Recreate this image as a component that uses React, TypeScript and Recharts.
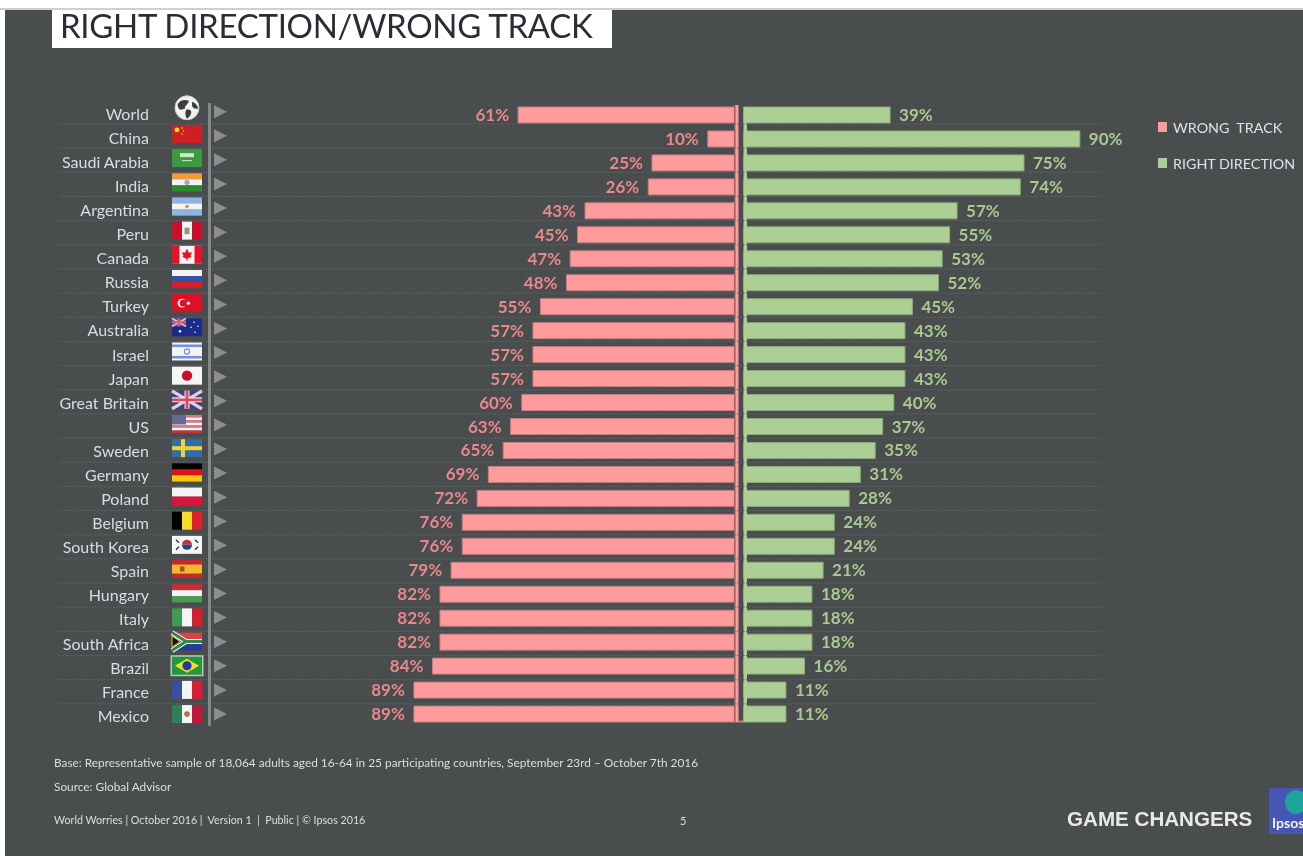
import { Bar, BarChart, LabelList, Legend, ReferenceLine, XAxis, YAxis } from 'recharts';

const countries = [
  'World', 'China', 'Saudi Arabia', 'India', 'Argentina', 'Peru', 'Canada', 'Russia', 'Turkey',
  'Australia', 'Israel', 'Japan', 'Great Britain', 'US', 'Sweden', 'Germany', 'Poland', 'Belgium',
  'South Korea', 'Spain', 'Hungary', 'Italy', 'South Africa', 'Brazil', 'France', 'Mexico',
];
const wrongTrack = [61, 10, 25, 26, 43, 45, 47, 48, 55, 57, 57, 57, 60, 63, 65, 69, 72, 76, 76, 79, 82, 82, 82, 84, 89, 89];
const rightDirection = [39, 90, 75, 74, 57, 55, 53, 52, 45, 43, 43, 43, 40, 37, 35, 31, 28, 24, 24, 21, 18, 18, 18, 16, 11, 11];

const title = 'RIGHT DIRECTION/WRONG TRACK';
const baseNote = 'Base: Representative sample of 18,064 adults aged 16-64 in 25 participating countries, September 23rd – October 7th 2016';
const sourceNote = 'Source: Global Advisor';
const footerNote = 'World Worries | October 2016 |  Version 1  |  Public | © Ipsos 2016';

const rows = countries.map((country, i) => ({
  country,
  wrong: wrongTrack[i],
  wrongBar: -wrongTrack[i],
  right: rightDirection[i],
}));

const BG = '#4a4d4e';
const PINK = '#ff9a9d';
const GREEN = '#abcf94';
const FONT = 'Lato, sans-serif';

function stripes(colors: string[]) {
  const h = 18 / colors.length;
  return colors.map((c, i) => <rect key={i} x={0} y={i * h} width={30} height={h + 0.2} fill={c} />);
}

function bands(colors: string[]) {
  const w = 30 / colors.length;
  return colors.map((c, i) => <rect key={i} x={i * w} y={0} width={w + 0.2} height={18} fill={c} />);
}

function flagArt(name: string) {
  switch (name) {
    case 'China':
      return (
        <>
          <rect width={30} height={18} fill="#cf1f25" />
          <circle cx={5} cy={5} r={2.4} fill="#f7d43a" />
          <circle cx={10} cy={3} r={0.8} fill="#f7d43a" />
          <circle cx={11.5} cy={6} r={0.8} fill="#f7d43a" />
          <circle cx={10} cy={9} r={0.8} fill="#f7d43a" />
        </>
      );
    case 'Saudi Arabia':
      return (
        <>
          <rect width={30} height={18} fill="#3c9a3e" />
          <rect x={8} y={4} width={14} height={4} fill="#cfe6c8" />
          <rect x={10} y={11} width={10} height={1} fill="#cfe6c8" />
        </>
      );
    case 'India':
      return (
        <>
          {stripes(['#f39a3c', '#f4f4f4', '#2c8a2c'])}
          <circle cx={15} cy={9} r={2.6} fill="#9aa5cf" />
        </>
      );
    case 'Argentina':
      return (
        <>
          {stripes(['#8db4e2', '#f4f4f4', '#8db4e2'])}
          <circle cx={15} cy={9} r={1.8} fill="#d99a3a" />
        </>
      );
    case 'Peru':
      return (
        <>
          {bands(['#c8102e', '#f4f4f4', '#c8102e'])}
          <rect x={12.5} y={6} width={5} height={6.5} fill="#8a9a7a" />
        </>
      );
    case 'Canada':
      return (
        <>
          <rect width={30} height={18} fill="#f4f4f4" />
          <rect width={7.5} height={18} fill="#e5132a" />
          <rect x={22.5} width={7.5} height={18} fill="#e5132a" />
          <polygon points="15,3 17,7 20,6.5 18.5,10.5 20,11 15.5,13 15.5,15 14.5,15 14.5,13 10,11 11.5,10.5 10,6.5 13,7" fill="#e5132a" />
        </>
      );
    case 'Russia':
      return stripes(['#f4f4f4', '#3552a8', '#d5202c']);
    case 'Turkey':
      return (
        <>
          <rect width={30} height={18} fill="#df0f26" />
          <circle cx={10} cy={9} r={4.4} fill="#f4f4f4" />
          <circle cx={11.2} cy={9} r={3.4} fill="#df0f26" />
          <circle cx={16.5} cy={9} r={1.6} fill="#f4f4f4" />
        </>
      );
    case 'Australia':
      return (
        <>
          <rect width={30} height={18} fill="#1c2a8a" />
          <rect width={14} height={8} fill="#5a5aa8" />
          <path d="M0 0L14 8M14 0L0 8" stroke="#f0c4cc" strokeWidth={1.6} />
          <path d="M7 0V8M0 4H14" stroke="#e45a6a" strokeWidth={2} />
          <circle cx={8} cy={13} r={1.3} fill="#f4f4f4" />
          <circle cx={22} cy={4} r={0.8} fill="#f4f4f4" />
          <circle cx={26} cy={8} r={0.8} fill="#f4f4f4" />
          <circle cx={19} cy={9} r={0.8} fill="#f4f4f4" />
          <circle cx={23} cy={14} r={0.8} fill="#f4f4f4" />
        </>
      );
    case 'Israel':
      return (
        <>
          <rect width={30} height={18} fill="#f4f4f4" />
          <rect y={2} width={30} height={2.6} fill="#6f94d8" />
          <rect y={13.4} width={30} height={2.6} fill="#6f94d8" />
          <circle cx={15} cy={9} r={2.6} fill="none" stroke="#6f94d8" strokeWidth={1.2} />
        </>
      );
    case 'Japan':
      return (
        <>
          <rect width={30} height={18} fill="#f6f6f6" />
          <circle cx={15} cy={9} r={5.2} fill="#c8102e" />
        </>
      );
    case 'Great Britain':
      return (
        <>
          <rect width={30} height={18} fill="#3a3f8e" />
          <path d="M0 0L30 18M30 0L0 18" stroke="#e8ccd8" strokeWidth={3.4} />
          <path d="M15 0V18M0 9H30" stroke="#efe4ea" strokeWidth={5} />
          <path d="M15 0V18M0 9H30" stroke="#d84a62" strokeWidth={2.8} />
        </>
      );
    case 'US':
      return (
        <>
          {stripes(['#d9767e', '#f4f4f4', '#d9767e', '#f4f4f4', '#d9767e', '#f4f4f4', '#c8303c'])}
          <rect width={14} height={9.5} fill="#676a94" />
        </>
      );
    case 'Sweden':
      return (
        <>
          <rect width={30} height={18} fill="#2f6ea8" />
          <rect x={9} width={4} height={18} fill="#f2d230" />
          <rect y={7} width={30} height={4} fill="#f2d230" />
        </>
      );
    case 'Germany':
      return stripes(['#000000', '#d8141c', '#f9c80e']);
    case 'Poland':
      return stripes(['#f4f4f4', '#dc143c']);
    case 'Belgium':
      return bands(['#000000', '#f7dc2a', '#e0202c']);
    case 'South Korea':
      return (
        <>
          <rect width={30} height={18} fill="#f6f6f6" />
          <path d="M10 9A5 5 0 0 1 20 9Z" fill="#d02a3a" />
          <path d="M10 9A5 5 0 0 0 20 9Z" fill="#28408c" />
          <path d="M4 4L7 7M23 4L26 7M4 14L7 11M23 14L26 11" stroke="#333" strokeWidth={1.4} />
        </>
      );
    case 'Spain':
      return (
        <>
          <rect width={30} height={18} fill="#c8252c" />
          <rect y={4.5} width={30} height={9} fill="#f3b82e" />
          <rect x={8} y={6.5} width={4.5} height={5} fill="#8a5a3a" />
        </>
      );
    case 'Hungary':
      return stripes(['#cf2a36', '#f4f4f4', '#4c9a4e']);
    case 'Italy':
      return bands(['#3f9a52', '#f4f4f4', '#d5202c']);
    case 'South Africa':
      return (
        <>
          <rect width={30} height={9} fill="#d8434a" />
          <rect y={9} width={30} height={9} fill="#2a3a9a" />
          <path d="M0 0L14 9L0 18M14 9H30" stroke="#f4f4f4" strokeWidth={5} fill="none" />
          <path d="M0 0L14 9L0 18M14 9H30" stroke="#2f8a4a" strokeWidth={3} fill="none" />
          <polygon points="0,3.5 8,9 0,14.5" fill="#111" stroke="#e8c030" strokeWidth={1} />
        </>
      );
    case 'Brazil':
      return (
        <>
          <rect x={-1.5} y={-1.5} width={33} height={21} fill="#bfc2c0" />
          <rect width={30} height={18} fill="#1e9a3c" />
          <polygon points="15,2 27,9 15,16 3,9" fill="#f5dc20" />
          <circle cx={15} cy={9} r={4.6} fill="#2038a8" />
        </>
      );
    case 'France':
      return bands(['#3a4fa0', '#f4f4f4', '#dc1c34']);
    case 'Mexico':
      return (
        <>
          {bands(['#2f8058', '#f4f4f4', '#c2183a'])}
          <circle cx={15} cy={9} r={2.8} fill="#a07a4a" />
        </>
      );
    default:
      return null;
  }
}

function Globe() {
  return (
    <g>
      <circle cx={15} cy={7} r={12} fill="#f2f2f2" stroke="#cfcfcf" />
      <path d="M6 3C9 -2 14 -1 17 0C16 4 12 5 13 8C10 8 9 10 7 8C6 6 5 5 6 3Z" fill="#3b3e40" />
      <path d="M14 9C18 8 20 10 19 13C18 16 16 17 15 18C13 15 13 12 14 9Z" fill="#3b3e40" />
      <path d="M20 1C23 2 26 5 26 8C24 8 21 8 20 5Z" fill="#3b3e40" />
    </g>
  );
}

function CountryTick(props: any) {
  const { y, payload } = props;
  const i = payload.index ?? countries.indexOf(payload.value);
  const name = payload.value as string;
  const flagMid = y - 5.2 + i * 0.21;
  const arrowMid = y - 3.3 + i * 0.13;
  const dotY = y + 9 + i * 0.2;
  return (
    <g>
      {i < countries.length - 1 && (
        <line x1={59} x2={1101} y1={dotY} y2={dotY} stroke="#636667" strokeWidth={1} strokeDasharray="1.5 1.5" />
      )}
      <text
        x={149}
        y={y - 1 + i * 0.12}
        dy="0.36em"
        textAnchor="end"
        fontFamily={FONT}
        fontSize={16}
        fill="#d9dde0"
      >
        {name}
      </text>
      <g transform={`translate(172,${flagMid - 9})`}>{name === 'World' ? <Globe /> : flagArt(name)}</g>
      <polygon points={`214,${arrowMid - 6.5} 227,${arrowMid} 214,${arrowMid + 6.5}`} fill="#8c8e8e" />
    </g>
  );
}

// divider between the two sides, drawn on the zero line
function CentreDivider(props: any) {
  const { x1 } = props;
  return (
    <g>
      <rect x={x1 - 11} y={105} width={9.5} height={617} fill={BG} />
      <rect x={x1 - 10.5} y={105} width={1} height={617} fill="#c47e82" />
      <rect x={x1 - 9.5} y={105} width={3} height={617} fill={PINK} />
      <rect x={x1 - 7} y={720.5} width={6} height={1.5} fill="#c47e82" />
      <rect x={x1 - 1.5} y={107} width={3.5} height={615} fill={GREEN} />
    </g>
  );
}

function ChartLegend() {
  const items = [
    { label: 'WRONG  TRACK', color: PINK },
    { label: 'RIGHT DIRECTION', color: GREEN },
  ];
  return (
    <div style={{ fontFamily: FONT, fontSize: 14.3, color: '#dfe3e6' }}>
      {items.map((it) => (
        <div key={it.label} style={{ display: 'flex', alignItems: 'center', height: 36, whiteSpace: 'pre' }}>
          <span style={{ width: 9, height: 10, background: it.color, marginRight: 6 }} />
          {it.label}
        </div>
      ))}
    </div>
  );
}

const noteStyle: React.CSSProperties = {
  position: 'absolute',
  fontFamily: FONT,
  color: '#dcdedf',
  whiteSpace: 'pre',
  lineHeight: 1,
};

export default function App() {
  return (
    <div style={{ position: 'absolute', left: 0, top: 0, width: 1303, height: 856, overflow: 'hidden', background: '#fff', filter: 'blur(0.5px)' }}>
      <div style={{ position: 'absolute', left: 0, top: 8, width: 1303, height: 2, background: '#cfcfcf' }} />
      <div style={{ position: 'absolute', left: 5, top: 10, width: 1298, height: 846, background: BG }} />

      <div style={{ position: 'absolute', left: 52, top: 10, width: 560, height: 38, background: '#fff' }}>
        <div style={{ position: 'absolute', left: 8, top: 0, fontFamily: FONT, fontSize: 33, lineHeight: '30px', letterSpacing: -0.3, color: '#2a2d33', whiteSpace: 'pre' }}>
          {title}
        </div>
      </div>

      <div style={{ position: 'absolute', left: 0, top: 0 }}>
        <BarChart
          width={1303}
          height={856}
          data={rows}
          layout="vertical"
          stackOffset="sign"
          margin={{ top: 103, right: 186, bottom: 130, left: 0 }}
        >
          <XAxis type="number" domain={[-100, 100]} hide />
          <YAxis
            type="category"
            dataKey="country"
            width={373}
            interval={0}
            axisLine={false}
            tickLine={false}
            tick={<CountryTick />}
          />
          <Bar
            dataKey="wrongBar"
            name="WRONG TRACK"
            stackId="split"
            fill={PINK}
            stroke="#c47e82"
            barSize={16}
            isAnimationActive={false}
          >
            <LabelList
              dataKey="wrong"
              position="right"
              offset={9}
              formatter={(v: number) => `${v}%`}
              style={{ fontFamily: FONT, fontSize: 17, fontWeight: 700, fill: '#e9878c' }}
            />
          </Bar>
          <Bar
            dataKey="right"
            name="RIGHT DIRECTION"
            stackId="split"
            fill={GREEN}
            stroke="#8dab78"
            barSize={16}
            isAnimationActive={false}
          >
            <LabelList
              dataKey="right"
              position="right"
              offset={9}
              formatter={(v: number) => `${v}%`}
              style={{ fontFamily: FONT, fontSize: 17, fontWeight: 700, fill: '#a9c990' }}
            />
          </Bar>
          <ReferenceLine x={0} shape={<CentreDivider />} isFront />
          <Legend
            layout="vertical"
            align="center"
            verticalAlign="middle"
            content={<ChartLegend />}
            wrapperStyle={{ left: 1158, top: 109, width: 145, bottom: 'auto', right: 'auto' }}
          />
        </BarChart>
      </div>

      {/* grey rule beside the flags */}
      <div style={{ position: 'absolute', left: 208, top: 103, width: 3, height: 623, background: '#85888a' }} />

      <div style={{ ...noteStyle, left: 54, top: 757, fontSize: 11.85 }}>{baseNote}</div>
      <div style={{ ...noteStyle, left: 54, top: 781, fontSize: 11.85 }}>{sourceNote}</div>
      <div style={{ ...noteStyle, left: 54, top: 815, fontSize: 10.7 }}>{footerNote}</div>
      <div style={{ ...noteStyle, left: 680, top: 815, fontSize: 11 }}>5</div>
      <div style={{ position: 'absolute', left: 1067, top: 808, fontFamily: '"Liberation Sans", Arial, sans-serif', fontWeight: 700, fontSize: 20.6, lineHeight: '22px', color: '#e9e9e9', whiteSpace: 'pre' }}>
        GAME CHANGERS
      </div>
      <div style={{ position: 'absolute', left: 1269, top: 788, width: 34, height: 46, background: '#4656b4', overflow: 'hidden' }}>
        <div style={{ position: 'absolute', left: 16, top: 2, width: 22, height: 24, borderRadius: '50%', background: '#1fa39a' }} />
        <div style={{ position: 'absolute', left: 3, top: 26, fontFamily: FONT, fontSize: 14, fontWeight: 700, color: '#f4f4f4' }}>Ipsos</div>
      </div>
    </div>
  );
}
